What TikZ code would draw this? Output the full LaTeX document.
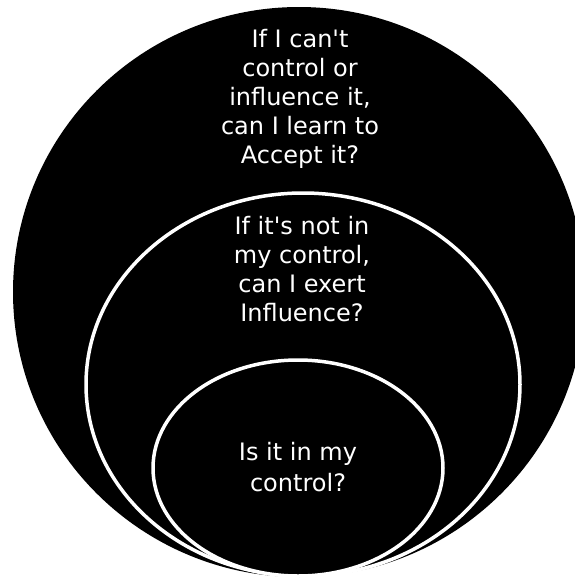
\documentclass[tikz,border=0pt]{standalone}
\usepackage{fontspec}
\newfontfamily\lblfont{DejaVu Sans}
\usetikzlibrary{shapes.geometric}
\begin{document}
\begin{tikzpicture}[x=1pt,y=-1pt,
  ring/.style={ellipse, inner sep=0pt, fill=black},
  inring/.style={ring, draw=white, line width=3.5pt},
  label/.style={text=white, align=center, anchor=base, inner sep=0pt,
    font=\lblfont\fontsize{24}{29}\selectfont}]
\useasboundingbox (0,0) rectangle (575,579);
\node[ring, minimum width=572pt, minimum height=570pt] (outer) at (299,292) {};
\node[inring, minimum width=434pt, minimum height=383pt] (middle) at (303,384.5) {};
\node[inring, minimum width=290pt, minimum height=216pt] (inner) at (298,468) {};
\node[label] (t1) at (300,163) {If I can't\\control or\\influence it,\\can I learn to\\Accept it?};
\node[label] (t2) at (302,321) {If it's not in\\my control,\\can I exert\\Influence?};
\node[label, font=\lblfont\fontsize{24}{31}\selectfont] (t3) at (298,491) {Is it in my\\control?};
\end{tikzpicture}
\end{document}
